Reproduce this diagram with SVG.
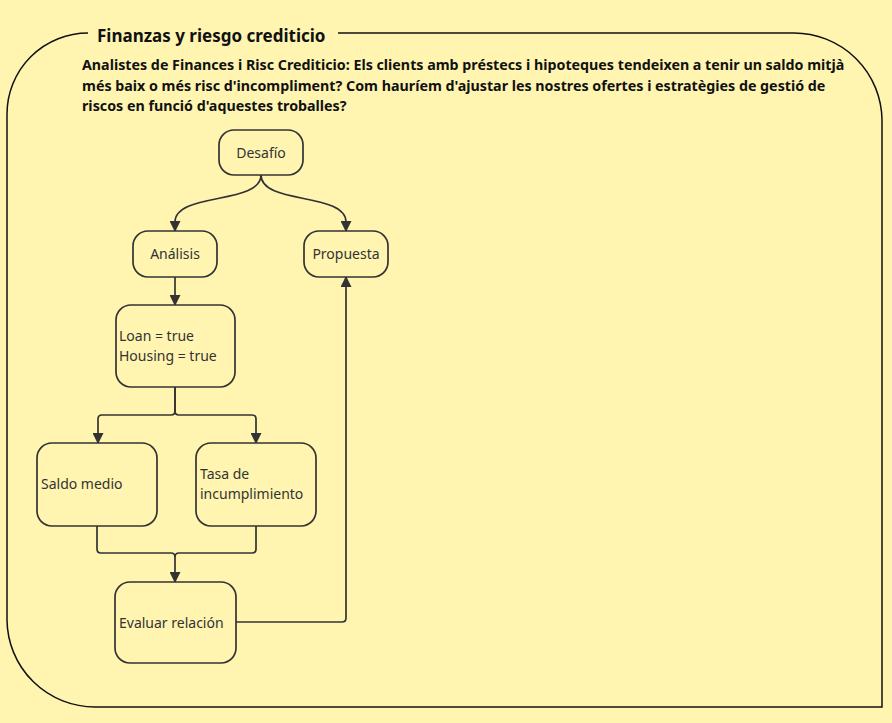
<svg xmlns="http://www.w3.org/2000/svg" width="892" height="723" viewBox="0 0 892 723">
<style>
.bg{fill:#fff5b1}
.frame{fill:none;stroke:#111;stroke-width:1.5}
.title{font-family:"Noto Sans",sans-serif;font-weight:bold;font-size:17px;fill:#111}
.sub{font-family:"Noto Sans",sans-serif;font-weight:bold;font-size:14.25px;fill:#111}
.node rect{fill:#fff5b1;stroke:#333;stroke-width:1.7}
.node text{font-family:"Noto Sans",sans-serif;font-size:14px;fill:#333}
.edge{fill:none;stroke:#333;stroke-width:1.7}
</style>
<defs>
<marker id="arr" viewBox="0 0 10 10" refX="9" refY="5" markerWidth="11" markerHeight="11" markerUnits="userSpaceOnUse" orient="auto">
<path d="M0,0 L10,5 L0,10 z" fill="#333"/>
</marker>
</defs>
<rect class="bg" x="0" y="0" width="892" height="723"/>
<path class="frame" d="M88,33 A81,81 0 0 0 7,114 L7,620 A88,88 0 0 0 95,707 L882,707 L882,120 A88,88 0 0 0 794,33 L338,33"/>
<text class="title" x="97" y="42">Finanzas y riesgo crediticio</text>
<text class="sub" x="82" y="70">Analistes de Finances i Risc Crediticio: Els clients amb préstecs i hipoteques tendeixen a tenir un saldo mitjà</text>
<text class="sub" x="82" y="91">més baix o més risc d'incompliment? Com hauríem d'ajustar les nostres ofertes i estratègies de gestió de</text>
<text class="sub" x="82" y="111">riscos en funció d'aquestes troballes?</text>
<g id="edges">
<path class="edge" marker-end="url(#arr)" d="M261,175 C261,205 175,192 175,222 L175,231"/>
<path class="edge" marker-end="url(#arr)" d="M261,175 C261,205 346,192 346,222 L346,231"/>
<path class="edge" marker-end="url(#arr)" d="M175,277 L175,305"/>
<path class="edge" marker-end="url(#arr)" d="M175,387 L175,411 Q175,415 171,415 L102,415 Q98,415 98,419 L98,443"/>
<path class="edge" marker-end="url(#arr)" d="M175,387 L175,411 Q175,415 179,415 L252,415 Q256,415 256,419 L256,443"/>
<path class="edge" marker-end="url(#arr)" d="M97,526 L97,549 Q97,553 101,553 L171,553 Q175,553 175,557 L175,582"/>
<path class="edge" d="M256,526 L256,549 Q256,553 252,553 L179,553 Q175,553 175,557"/>
<path class="edge" marker-end="url(#arr)" d="M236,622 L342,622 Q346,622 346,618 L346,277"/>
</g>
<g id="desafio" class="node"><rect x="219" y="130" width="84" height="45" rx="15"/><text x="261" y="158" text-anchor="middle">Desafío</text></g>
<g id="analisis" class="node"><rect x="133" y="231" width="84" height="46" rx="15"/><text x="175" y="259" text-anchor="middle">Análisis</text></g>
<g id="propuesta" class="node"><rect x="304" y="231" width="84" height="46" rx="15"/><text x="346" y="259" text-anchor="middle">Propuesta</text></g>
<g id="filtro" class="node"><rect x="116" y="305" width="119" height="82" rx="15"/><text x="119" y="341">Loan = true</text><text x="119" y="361">Housing = true</text></g>
<g id="saldo" class="node"><rect x="37" y="443" width="120" height="83" rx="15"/><text x="41" y="489">Saldo medio</text></g>
<g id="tasa" class="node"><rect x="196" y="443" width="120" height="83" rx="15"/><text x="200" y="479">Tasa de</text><text x="200" y="499">incumplimiento</text></g>
<g id="evaluar" class="node"><rect x="115" y="582" width="121" height="81" rx="15"/><text x="119" y="628">Evaluar relación</text></g>
</svg>
